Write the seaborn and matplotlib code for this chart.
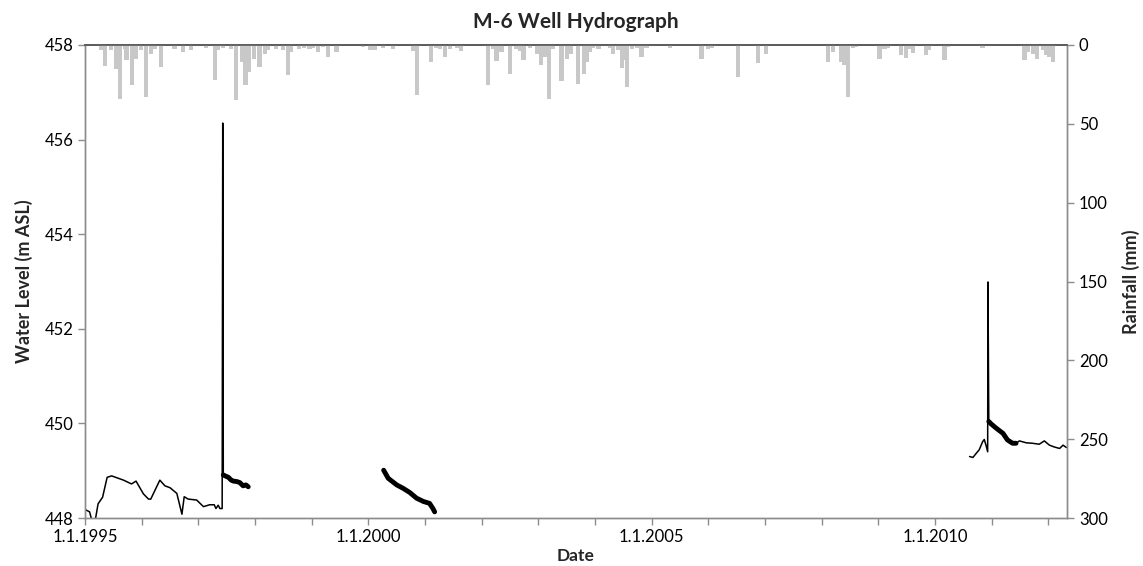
import matplotlib
matplotlib.use("Agg")
import matplotlib.pyplot as plt
from matplotlib.ticker import FixedLocator, FuncFormatter
import numpy as np
import pandas as pd
import seaborn as sns

# ---- water level (m ASL), decimal years ----
wl_a_year = [1995.00, 1995.08, 1995.12, 1995.18, 1995.23, 1995.31, 1995.39, 1995.47,
             1995.68, 1995.82, 1995.90, 1996.03, 1996.12, 1996.16, 1996.32, 1996.41,
             1996.50, 1996.62, 1996.71, 1996.75, 1996.82, 1996.97, 1997.09, 1997.20,
             1997.28, 1997.31, 1997.35, 1997.38, 1997.42, 1997.43, 1997.44]
wl_a_level = [448.18, 448.13, 447.95, 447.95, 448.30, 448.44, 448.86, 448.89,
              448.80, 448.72, 448.78, 448.51, 448.40, 448.40, 448.80, 448.68,
              448.64, 448.52, 448.08, 448.45, 448.40, 448.38, 448.24, 448.28,
              448.28, 448.20, 448.27, 448.20, 448.20, 456.35, 448.91]

wl_b_year = [1997.44, 1997.49, 1997.53, 1997.58, 1997.62, 1997.68, 1997.73, 1997.79,
             1997.84, 1997.88]
wl_b_level = [448.91, 448.88, 448.86, 448.80, 448.78, 448.77, 448.75, 448.68,
              448.70, 448.66]

wl_c_year = [2000.27, 2000.35, 2000.50, 2000.61, 2000.73, 2000.85, 2000.97, 2001.08,
             2001.14, 2001.17]
wl_c_level = [449.01, 448.84, 448.70, 448.63, 448.54, 448.42, 448.35, 448.31,
              448.20, 448.13]

wl_d_year = [2010.61, 2010.67, 2010.73, 2010.78, 2010.84, 2010.87, 2010.90, 2010.93,
             2010.935, 2010.95]
wl_d_level = [449.30, 449.28, 449.37, 449.44, 449.61, 449.66, 449.54, 449.40,
              452.99, 450.04]

wl_e_year = [2010.95, 2010.99, 2011.08, 2011.20, 2011.28, 2011.37, 2011.43]
wl_e_level = [450.04, 449.99, 449.90, 449.79, 449.65, 449.58, 449.58]

wl_f_year = [2011.43, 2011.49, 2011.61, 2011.72, 2011.84, 2011.93, 2012.02, 2012.11,
             2012.20, 2012.26, 2012.32]
wl_f_level = [449.58, 449.63, 449.59, 449.58, 449.56, 449.63, 449.54, 449.50,
              449.47, 449.54, 449.49]

# ---- rainfall (mm) ----
rain_year = [1995.29, 1995.35, 1995.46, 1995.55, 1995.62, 1995.70, 1995.73, 1995.83,
             1995.90, 1995.99, 1996.08, 1996.17, 1996.23, 1996.34, 1996.58, 1996.73,
             1996.87, 1997.14, 1997.29, 1997.35, 1997.43, 1997.58, 1997.67, 1997.77,
             1997.83, 1997.90, 1997.98, 1998.08, 1998.17, 1998.23, 1998.37, 1998.49,
             1998.58, 1998.64, 1998.77, 1998.87, 1998.96, 1999.02, 1999.11, 1999.20,
             1999.29, 1999.44, 1999.91, 2000.03, 2000.11, 2000.26, 2000.44, 2000.79,
             2000.86, 2001.11, 2001.20, 2001.26, 2001.35, 2001.44, 2001.56, 2001.64,
             2002.11, 2002.20, 2002.26, 2002.35, 2002.50, 2002.61, 2002.67, 2002.74,
             2002.85, 2002.97, 2003.05, 2003.11, 2003.19, 2003.26, 2003.41, 2003.50,
             2003.58, 2003.70, 2003.80, 2003.85, 2003.91, 2003.96, 2004.06, 2004.26,
             2004.32, 2004.41, 2004.47, 2004.53, 2004.57, 2004.65, 2004.74, 2004.82,
             2004.91, 2005.32, 2005.88, 2006.00, 2006.06, 2006.53, 2006.88, 2007.02,
             2008.11, 2008.20, 2008.35, 2008.40, 2008.46, 2008.55, 2008.61, 2009.02,
             2009.11, 2009.17, 2009.40, 2009.49, 2009.55, 2009.61, 2009.84, 2009.90,
             2010.17, 2010.23, 2010.84, 2011.58, 2011.64, 2011.73, 2011.80, 2011.90,
             2011.96, 2012.02, 2012.08]
rain_mm = [3.4, 13.3, 3.4, 15.0, 34.0, 2.5, 9.7, 25.2,
           8.7, 3.4, 33.0, 5.5, 2.3, 13.9, 2.5, 4.2,
           3.4, 1.9, 22.4, 3.4, 1.9, 2.5, 35.0, 10.8,
           25.6, 17.1, 8.7, 13.9, 5.5, 3.4, 2.3, 3.4,
           19.2, 4.2, 2.3, 1.9, 2.3, 1.9, 4.2, 1.1,
           7.6, 4.2, 1.1, 3.4, 3.4, 1.9, 2.3, 4.0,
           32.0, 10.8, 1.9, 2.3, 7.6, 2.3, 1.9, 4.0,
           25.2, 2.3, 10.4, 4.2, 18.2, 2.3, 4.0, 9.7,
           1.9, 5.5, 12.7, 7.6, 34.0, 2.3, 23.0, 8.7,
           5.5, 24.5, 18.2, 10.8, 4.2, 1.9, 2.3, 1.9,
           5.5, 3.4, 14.6, 9.7, 26.6, 2.3, 1.9, 7.6,
           1.9, 1.9, 8.7, 2.3, 1.9, 20.3, 11.2, 5.5,
           10.8, 4.2, 10.8, 12.7, 33.0, 1.9, 1.1, 8.7,
           2.3, 1.9, 6.1, 8.2, 2.3, 4.9, 6.6, 3.4,
           9.7, 1.1, 1.9, 9.7, 4.2, 5.5, 8.7, 3.4,
           6.6, 7.6, 10.8]

x_ticks = list(range(1995, 2013))
x_labelled = [1995, 2000, 2005, 2010]
wl_ticks = [448, 450, 452, 454, 456, 458]
rain_ticks = [0, 50, 100, 150, 200, 250, 300]

sns.set_style("white")
plt.rcParams["font.family"] = ["Lato", "DejaVu Sans"]

fig = plt.figure(figsize=(11.43, 5.66), dpi=100)
ax = fig.add_axes([0.0744, 0.0848, 0.8591, 0.8357])
ax2 = ax.twinx()

# rainfall bars hanging from the top on the inverted right axis
ax2.bar(rain_year, rain_mm, width=0.075, color="#c8c8c8", linewidth=0, zorder=2)
ax2.set_ylim(300, 0)

# water level series
thin = [(wl_a_year, wl_a_level), (wl_d_year, wl_d_level), (wl_f_year, wl_f_level)]
thick = [(wl_b_year, wl_b_level), (wl_c_year, wl_c_level), (wl_e_year, wl_e_level)]
for yrs, lev in thin:
    df = pd.DataFrame({"year": yrs, "level": lev})
    sns.lineplot(data=df, x="year", y="level", ax=ax, sort=False, estimator=None,
                 color="black", linewidth=1.1)
for yrs, lev in thick:
    df = pd.DataFrame({"year": yrs, "level": lev})
    sns.lineplot(data=df, x="year", y="level", ax=ax, sort=False, estimator=None,
                 color="black", linewidth=3.5)

ax.set_xlim(1995.0, 2012.33)
ax.set_ylim(448, 458)
ax.xaxis.set_major_locator(FixedLocator(x_ticks))
ax.xaxis.set_major_formatter(FuncFormatter(
    lambda v, p: f"1.1.{int(round(v))}" if int(round(v)) in x_labelled else ""))
ax.set_yticks(wl_ticks)
ax2.set_yticks(rain_ticks)

tick_kw = dict(direction="out", length=5, width=1, color="#8c8c8c",
               labelsize=12, labelcolor="black")
ax.tick_params(axis="x", bottom=True, pad=3, **tick_kw)
ax.tick_params(axis="y", left=True, **tick_kw)
ax2.tick_params(axis="y", right=True, **tick_kw)

for a in (ax, ax2):
    for side in ("left", "right", "bottom"):
        a.spines[side].set_color("#8c8c8c")
        a.spines[side].set_linewidth(1.0)
    a.spines["top"].set_color("#5a5a5a")
    a.spines["top"].set_linewidth(1.2)
    a.grid(False)

ax.set_xlabel("Date", fontsize=12.5, fontweight="bold", labelpad=2)
ax.set_ylabel("Water Level (m ASL)", fontsize=13, fontweight="bold", labelpad=8)
ax2.set_ylabel("Rainfall (mm)", fontsize=13, fontweight="bold", labelpad=10,
               rotation=90)
ax.set_title("M-6 Well Hydrograph", fontsize=15, fontweight="bold", pad=12)

fig.savefig("out.png", dpi=100)
